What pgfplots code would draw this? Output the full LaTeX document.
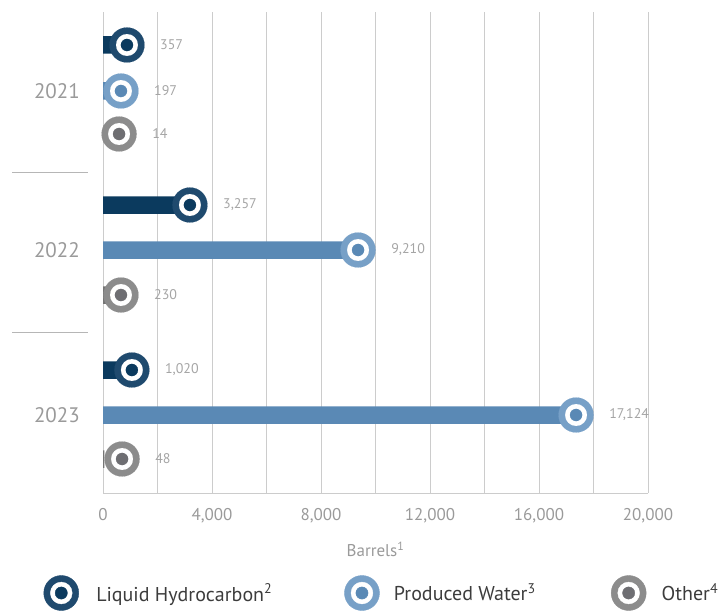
\documentclass[border=0pt]{standalone}
\usepackage{pgfplots}
\pgfplotsset{compat=1.18}
\usepackage{pgfplotstable}
\usepackage{fontspec}
\setmainfont{PT Sans}
\definecolor{lhbar}{HTML}{0B3A5E}
\definecolor{lhring}{HTML}{1F4A6E}
\definecolor{pwbar}{HTML}{5A89B5}
\definecolor{pwring}{HTML}{77A0C7}
\definecolor{otbar}{HTML}{757575}
\definecolor{otring}{HTML}{8C8C8C}
\definecolor{otdot}{HTML}{6E6E72}
\definecolor{gridgray}{HTML}{CCCCCC}
\definecolor{labgray}{HTML}{A5A5A5}
\definecolor{tickgray}{HTML}{9A9A9A}
\definecolor{legtext}{HTML}{3C3C3C}

\pgfplotstableread{
y v m t
-45 357 880 357
-205 3257 3190 3,257
-370 1020 1060 1,020
}\lh
\pgfplotstableread{
y v m t
-91 197 660 197
-250 9210 9360 9,210
-415 17124 17360 17,124
}\pw
\pgfplotstableread{
y v m t
-134 14 590 14
-295 230 660 230
-459 48 700 48
}\oth

\pgfplotsset{
  ring/.style={only marks, mark=*, color=#1, mark size=17.5pt, line width=0.1pt},
  hole/.style={only marks, mark=*, color=white, mark size=10.9pt, line width=0.1pt},
  dot/.style={only marks, mark=*, color=#1, mark size=6.1pt, line width=0.1pt},
  vlab/.style={only marks, mark=none, point meta=explicit symbolic,
    nodes near coords, nodes near coords align=horizontal,
    every node near coord/.append style={anchor=west, xshift=33pt, inner sep=0pt,
      font=\fontsize{14}{14}\selectfont, text=labgray}},
}

\begin{document}
\begin{tikzpicture}
\path[use as bounding box] (0,0) rectangle (719pt,611pt);
\begin{axis}[
  at={(103pt,118pt)}, anchor=south west,
  scale only axis, width=545pt, height=481pt,
  xmin=0, xmax=20000, ymin=-493, ymax=-12,
  clip=false,
  axis x line=bottom, axis y line=left,
  axis line style={draw=gridgray, line width=1pt, -},
  xtick={0,4000,...,20000},
  minor xtick={2000,6000,...,18000},
  xmajorgrids, xminorgrids,
  major grid style={draw=gridgray, line width=0.9pt},
  minor grid style={draw=gridgray, line width=0.9pt},
  major tick length=0pt, minor tick length=0pt,
  scaled x ticks=false,
  /pgf/number format/assume math mode=true,
  /pgf/number format/1000 sep={,},
  xticklabel style={font=\fontsize{17}{17}\selectfont, text=tickgray, inner sep=0pt, yshift=-15pt},
  ytick={-91,-250,-415},
  yticklabels={2021,2022,2023},
  yticklabel style={font=\fontsize{21}{21}\selectfont, text=tickgray, inner sep=0pt, xshift=-23pt},
  xlabel={Barrels\textsuperscript{1}},
  xlabel style={at={(axis description cs:0.5,0)}, anchor=north, inner sep=0pt, yshift=-49pt,
    font=\fontsize{17}{17}\selectfont, text=tickgray},
  legend columns=3,
  legend cell align=left,
  legend style={at={(-0.1094,-0.2079)}, anchor=west, draw=none, fill=none,
    inner sep=0pt, column sep=0pt, row sep=0pt,
    nodes={inner sep=0pt, anchor=west, font=\fontsize{20}{20}\selectfont, text=legtext}},
]
% bars
\addplot[xbar, bar width=17.5pt, bar shift=0pt, fill=lhbar, draw=none, forget plot] table[x=v,y=y]{\lh};
\addplot[xbar, bar width=17.5pt, bar shift=0pt, fill=pwbar, draw=none, forget plot] table[x=v,y=y]{\pw};
\addplot[xbar, bar width=17.5pt, bar shift=0pt, fill=otbar, draw=none, forget plot] table[x=v,y=y]{\oth};
% markers
\addplot[ring=lhring, forget plot] table[x=m,y=y]{\lh};
\addplot[hole, forget plot] table[x=m,y=y]{\lh};
\addplot[dot=lhbar, forget plot] table[x=m,y=y]{\lh};
\addplot[ring=pwring, forget plot] table[x=m,y=y]{\pw};
\addplot[hole, forget plot] table[x=m,y=y]{\pw};
\addplot[dot=pwbar, forget plot] table[x=m,y=y]{\pw};
\addplot[ring=otring, forget plot] table[x=m,y=y]{\oth};
\addplot[hole, forget plot] table[x=m,y=y]{\oth};
\addplot[dot=otdot, forget plot] table[x=m,y=y]{\oth};
% value labels
\addplot[vlab, forget plot] table[x=m,y=y,meta=t]{\lh};
\addplot[vlab, forget plot] table[x=m,y=y,meta=t]{\pw};
\addplot[vlab, forget plot] table[x=m,y=y,meta=t]{\oth};
% separators
\draw[gridgray!85!black!90, line width=0.9pt] (axis cs:-3339,-172) -- (axis cs:-550,-172);
\draw[gridgray!85!black!90, line width=0.9pt] (axis cs:-3339,-332) -- (axis cs:-550,-332);
% legend
\addlegendimage{legend image code/.code={
  \fill[lhring] (0pt,0pt) circle[radius=17.5pt];
  \fill[white] (0pt,0pt) circle[radius=10.9pt];
  \fill[lhbar] (0pt,0pt) circle[radius=6.1pt];
  \path[draw=none, fill=none] (0pt,0pt) -- (35pt,0pt);}}
\addlegendentry{\makebox[248pt][l]{Liquid Hydrocarbon\textsuperscript{2}}}
\addlegendimage{legend image code/.code={
  \fill[pwring] (0pt,0pt) circle[radius=17.5pt];
  \fill[white] (0pt,0pt) circle[radius=10.9pt];
  \fill[pwbar] (0pt,0pt) circle[radius=6.1pt];
  \path[draw=none, fill=none] (0pt,0pt) -- (32pt,0pt);}}
\addlegendentry{\makebox[217pt][l]{Produced Water\textsuperscript{3}}}
\addlegendimage{legend image code/.code={
  \fill[otring] (0pt,0pt) circle[radius=17.5pt];
  \fill[white] (0pt,0pt) circle[radius=10.9pt];
  \fill[otdot] (0pt,0pt) circle[radius=6.1pt];
  \path[draw=none, fill=none] (0pt,0pt) -- (33pt,0pt);}}
\addlegendentry{Other\textsuperscript{4}}
\end{axis}
\end{tikzpicture}
\end{document}
